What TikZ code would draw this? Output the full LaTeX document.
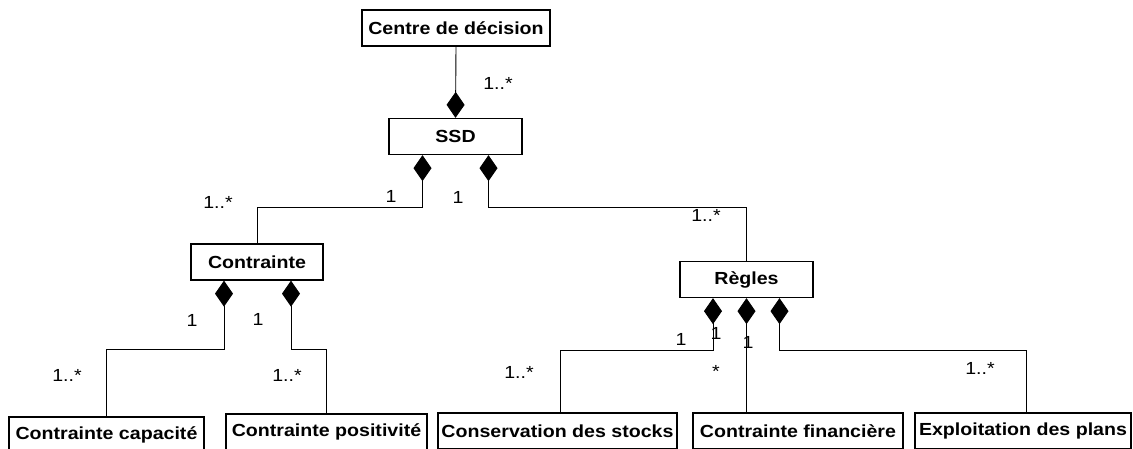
\documentclass[tikz,border=0pt]{standalone}
\usepackage{fontspec}
\setmainfont[FakeStretch=1.12]{Liberation Sans}
\usetikzlibrary{arrows.meta, positioning}

\begin{document}
\begin{tikzpicture}[x=1pt, y=-1pt,
    classe/.style={rectangle, draw, line width=1.3pt, minimum height=36pt, inner sep=2pt, font=\bfseries\fontsize{17.5}{20}\selectfont},
    mult/.style={inner sep=0pt, font=\fontsize{17.5}{20}\selectfont},
    comp/.style={{Diamond[length=26pt, width=18pt]}-, line width=0.9pt}
]
\useasboundingbox (0,0) rectangle (1133,449);

% classes
\node[classe, minimum width=188pt] (centre) at (456,28) {Centre de décision};
\node[classe, minimum width=133pt] (ssd) at (455.5,136.5) {SSD};
\node[classe, minimum width=132pt] (contrainte) at (257,262) {Contrainte};
\node[classe, minimum width=133pt] (regles) at (746.5,279.5) {Règles};
\node[classe, minimum width=195pt] (capa) at (106.5,435) {Contrainte capacité};
\node[classe, minimum width=201pt] (posi) at (326.5,432) {Contrainte positivité};
\node[classe, minimum width=239pt] (stocks) at (557.5,431) {Conservation des stocks};
\node[classe, minimum width=210pt] (finance) at (798,431) {Contrainte financière};
\node[classe, minimum width=216pt] (plans) at (1023,431) {Exploitation des plans};

% compositions
\draw[comp] (ssd.north) -- (centre.south);
\draw[comp] ([xshift=-33pt]ssd.south) -- ++(0,52) -| (contrainte.north);
\draw[comp] ([xshift=33pt]ssd.south) -- ++(0,52) -| (regles.north);
\draw[comp] ([xshift=-33pt]contrainte.south) -- ++(0,69) -| (capa.north);
\draw[comp] ([xshift=34pt]contrainte.south) -- ++(0,69) -| (posi.north);
\draw[comp] ([xshift=-33.5pt]regles.south) -- ++(0,52) -| ([xshift=2.5pt]stocks.north);
\draw[comp] (regles.south) -- (regles.south |- finance.north);
\draw[comp] ([xshift=33pt]regles.south) -- ++(0,52) -| ([xshift=3pt]plans.north);

% multiplicites
\node[mult] (m1) at (498,83) {1..*};
\node[mult] (m2) at (391,196) {1};
\node[mult] (m3) at (218,202) {1..*};
\node[mult] (m4) at (458,197) {1};
\node[mult] (m5) at (706,215) {1..*};
\node[mult] (m6) at (192,320) {1};
\node[mult] (m7) at (258,319) {1};
\node[mult] (m8) at (67,375) {1..*};
\node[mult] (m9) at (287,375) {1..*};
\node[mult] (m10) at (681,339) {1};
\node[mult] (m11) at (716,333) {1};
\node[mult] (m12) at (748,342) {1};
\node[mult] (m13) at (716,371) {*};
\node[mult] (m14) at (519,372) {1..*};
\node[mult] (m15) at (980,368) {1..*};
\end{tikzpicture}
\end{document}
